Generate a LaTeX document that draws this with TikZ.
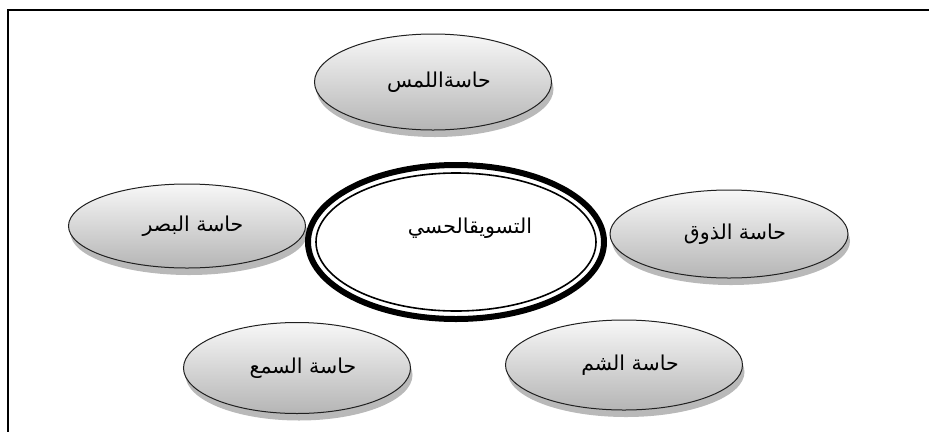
\documentclass[tikz,border=0pt]{standalone}
\usepackage{fontspec}
\TeXXeTstate=1
\newfontfamily\arabicfont[Script=Arabic]{DejaVu Sans}
\usetikzlibrary{shapes.geometric,shadows}
\tikzset{
  sense/.style={ellipse, draw=gray!25!black, line width=1pt,
    top color=gray!6, bottom color=gray!58,
    minimum width=237pt, minimum height=90pt, inner sep=0pt,
    general shadow={fill=gray!55, shadow xshift=2pt, shadow yshift=-7pt},
    font=\arabicfont\fontsize{20.5}{24}\selectfont},
  core/.style={ellipse, draw=black, line width=6pt, fill=white,
    minimum width=296pt, minimum height=154pt, inner sep=0pt},
  coreinner/.style={ellipse, draw=black, line width=1.6pt,
    minimum width=280pt, minimum height=138pt, inner sep=0pt},
  coretext/.style={inner sep=0pt, font=\arabicfont\fontsize{20.5}{24}\selectfont}
}
\newcommand{\ar}[1]{\hspace*{12pt}\raisebox{-4pt}{\beginR #1\endR}}
\begin{document}
\begin{tikzpicture}[x=1pt,y=-1pt]
\useasboundingbox (0,0) rectangle (929,432);
\draw[line width=2.2pt, black] (929,10) -- (8,10) -- (8,432);
\node[sense, minimum height=96pt] (touch) at (433,82) {\ar{حاسةاللمس}};
\node[sense, minimum height=84pt] (sight) at (187,226) {\ar{حاسة البصر}};
\node[sense, minimum width=238pt, minimum height=88pt] (taste) at (729,234) {\ar{حاسة الذوق}};
\node[sense, minimum width=227pt, minimum height=91pt] (hearing) at (297,368) {\ar{حاسة السمع}};
\node[sense, minimum height=90pt] (smell) at (624,365) {\ar{حاسة الشم}};
\node[core] (market) at (456,242) {};
\node[coreinner] (marketin) at (market.center) {};
\node[coretext] (marketlabel) at (470,228) {\beginR التسويقالحسي\endR};
\end{tikzpicture}
\end{document}
